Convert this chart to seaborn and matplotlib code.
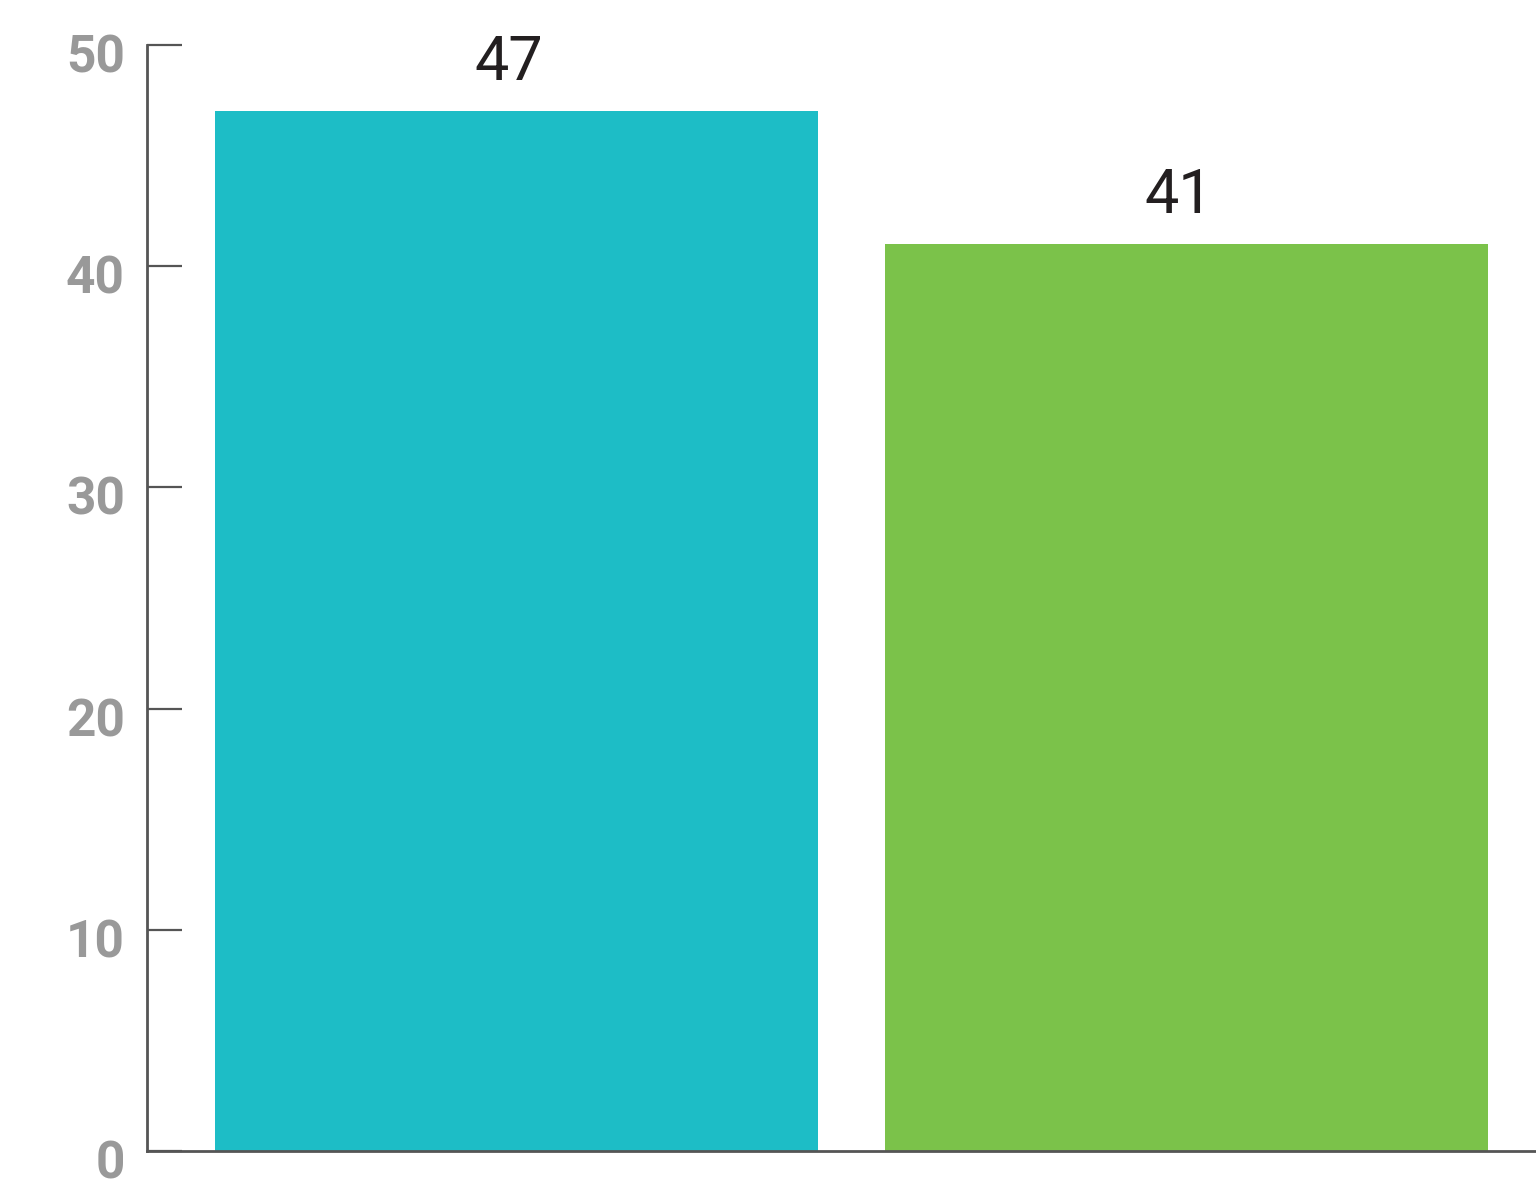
import matplotlib
matplotlib.use("Agg")
import matplotlib.pyplot as plt
import matplotlib.transforms as mtransforms
import seaborn as sns
import pandas as pd

# data
groups = ["A", "B"]
values = [47, 41]
colors = ["#1DBDC6", "#7BC24A"]
yticks = [0, 10, 20, 30, 40, 50]

df = pd.DataFrame({"group": groups, "value": values})

sns.set_style("white")
plt.rcParams["font.family"] = ["Roboto", "DejaVu Sans"]

fig = plt.figure(figsize=(15.36, 11.8), dpi=100)
ax = fig.add_axes([0.0957, 0.0246, 0.9043, 0.9373])

sns.barplot(data=df, x="group", y="value", hue="group", palette=colors,
            width=0.9, saturation=1, legend=False, ax=ax, linewidth=0)

ax.set_ylim(0, 50)
ax.set_xlim(-0.552, 1.521)
ax.set_yticks(yticks)
ax.set_xticks([])
ax.set_xlabel("")
ax.set_ylabel("")

for s in ["top", "right"]:
    ax.spines[s].set_visible(False)
for s in ["left", "bottom"]:
    ax.spines[s].set_color("#555555")
    ax.spines[s].set_linewidth(2)

ax.tick_params(axis="y", left=True, direction="in", length=25, width=1.6,
               color="#555555", pad=16, labelsize=37, labelcolor="#999999")
offset = mtransforms.ScaledTranslation(0, -8 / 100, fig.dpi_scale_trans)
for lab in ax.get_yticklabels():
    lab.set_fontweight("bold")
    lab.set_transform(lab.get_transform() + offset)

# value labels
for i, v in enumerate(values):
    ax.annotate(str(v), xy=(i, v), xytext=(-6, 14), textcoords="offset points",
                ha="center", va="bottom", fontsize=44, color="#231F20")

fig.savefig("out.png", dpi=100)
